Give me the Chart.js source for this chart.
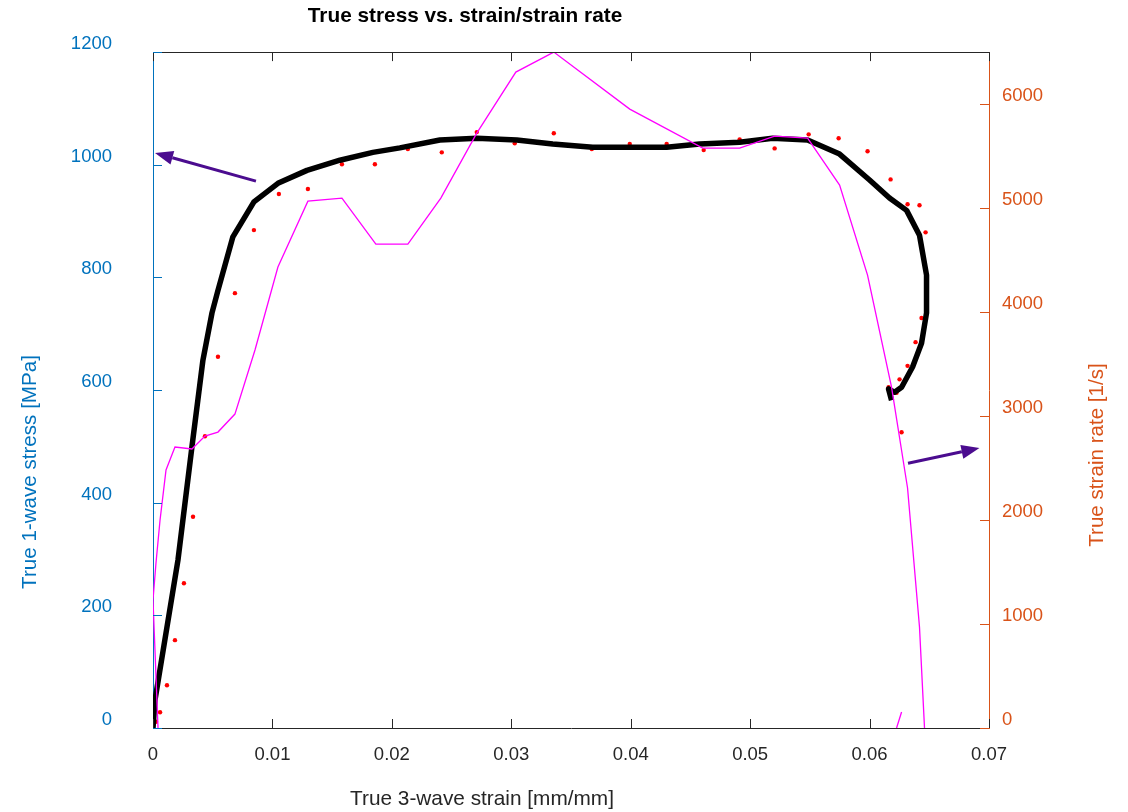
<!DOCTYPE html>
<html>
<head>
<meta charset="utf-8">
<script src="https://cdn.jsdelivr.net/npm/chart.js@4.4.0/dist/chart.umd.min.js"></script>
<style>
  html, body { margin: 0; padding: 0; background: #fff; }
  canvas { display: block; }
</style>
</head>
<body>
<canvas id="stressChart" width="1128" height="812"></canvas>
<script>
// stress-strain curve (left axis, MPa)
const strainStress = [0, 0.00017, 0.00209, 0.00326, 0.00418, 0.00494, 0.00544, 0.00669, 0.00845, 0.01046, 0.01289, 0.01565, 0.01841, 0.02067, 0.02402, 0.02711, 0.03046, 0.03347, 0.03682, 0.04301, 0.04577, 0.04912, 0.05188, 0.05481, 0.05749, 0.06, 0.06167, 0.0631, 0.06418, 0.06477, 0.06477, 0.06435, 0.0636, 0.06268, 0.06209, 0.06159, 0.06184];
const stress = [0, 50, 298, 499, 653, 737, 777, 872, 934, 967, 990, 1008, 1022, 1030, 1044, 1047, 1044, 1037, 1031, 1031, 1037, 1040, 1047, 1044, 1019, 973, 941, 919, 875, 804, 737, 683, 641, 605, 596, 602, 582];

// red dots (left axis)
const strainDots = [0.00025, 0.00059, 0.00117, 0.00184, 0.00259, 0.00335, 0.00435, 0.00544, 0.00686, 0.00845, 0.01054, 0.01297, 0.01582, 0.01858, 0.02134, 0.02418, 0.02711, 0.03029, 0.03356, 0.03674, 0.03992, 0.04301, 0.04611, 0.04912, 0.05205, 0.0549, 0.05741, 0.05983, 0.06176, 0.06318, 0.06418, 0.06469, 0.06435, 0.06385, 0.06318, 0.06251, 0.06159, 0.06226, 0.06268];
const dotStress = [11, 28, 76, 156, 257, 375, 518, 659, 772, 884, 948, 957, 1001, 1001, 1028, 1022, 1058, 1038, 1056, 1028, 1037, 1037, 1026, 1045, 1029, 1054, 1047, 1024, 974, 930, 928, 880, 728, 685, 643, 619, 605, 595, 525];

// strain rate (right axis, 1/s); null = break in the line
const strainRateX = [0.00042, 0, 0.00025, 0.00059, 0.00109, 0.00184, 0.00326, 0.00435, 0.00544, 0.00686, 0.00854, 0.01046, 0.01297, 0.01582, 0.01866, 0.02134, 0.0241, 0.02711, 0.03038, 0.03356, 0.03992, 0.04603, 0.04912, 0.05205, 0.05481, 0.05749, 0.05983, 0.06184, 0.06318, 0.06418, 0.0646, null, 0.06226, 0.06268];
const strainRate = [0, 1231, 1587, 2000, 2481, 2702, 2683, 2808, 2846, 3019, 3635, 4433, 5067, 5096, 4654, 4654, 5096, 5721, 6308, 6500, 5952, 5577, 5577, 5692, 5673, 5221, 4356, 3279, 2308, 971, 0, null, 0, 154];

// ticks
const xTicks = [0, 0.01, 0.02, 0.03, 0.04, 0.05, 0.06, 0.07];
const stressTicks = [0, 200, 400, 600, 800, 1000, 1200];
const rateTicks = [0, 1000, 2000, 3000, 4000, 5000, 6000];

// annotation arrows [x1, y1, x2, y2] in data units (left axis for y)
const arrowStress = [0.00862, 971, 0.00017, 1021];
const arrowRate = [0.06322, 470, 0.0692, 497];

const FONT = '"Liberation Sans", Arial, Helvetica, sans-serif';
const BLUE = '#0072BD';
const ORANGE = '#D95319';
const DARK = '#262626';

function pts(xs, ys) {
  return xs.map((x, i) => ({ x: x, y: ys[i] }));
}

const overlay = {
  id: 'overlay',
  afterDraw(chart) {
    const ctx = chart.ctx;
    const a = chart.chartArea;
    const sx = chart.scales.x, sy = chart.scales.y, sr = chart.scales.y2;
    ctx.save();

    function seg(x1, y1, x2, y2) {
      ctx.beginPath(); ctx.moveTo(x1, y1); ctx.lineTo(x2, y2); ctx.stroke();
    }

    // top frame
    ctx.lineWidth = 1;
    ctx.strokeStyle = DARK;
    seg(a.left, Math.round(a.top) + 0.5, a.right, Math.round(a.top) + 0.5);

    // inward tick marks
    xTicks.forEach(v => {
      const px = Math.round(sx.getPixelForValue(v)) + 0.5;
      seg(px, a.bottom, px, a.bottom - 9);
      seg(px, a.top, px, a.top + 9);
    });
    ctx.strokeStyle = BLUE;
    stressTicks.forEach(v => {
      const py = Math.round(sy.getPixelForValue(v)) + 0.5;
      seg(a.left, py, a.left + 9, py);
    });
    ctx.strokeStyle = ORANGE;
    rateTicks.forEach(v => {
      const py = Math.round(sr.getPixelForValue(v)) + 0.5;
      seg(a.right, py, a.right - 9, py);
    });

    // arrows
    function arrow(p) {
      const x1 = sx.getPixelForValue(p[0]), y1 = sy.getPixelForValue(p[1]);
      const x2 = sx.getPixelForValue(p[2]), y2 = sy.getPixelForValue(p[3]);
      const ang = Math.atan2(y2 - y1, x2 - x1);
      const hl = 18, hw = 7;
      const bx = x2 - hl * Math.cos(ang), by = y2 - hl * Math.sin(ang);
      ctx.strokeStyle = '#4B0C8F';
      ctx.fillStyle = '#4B0C8F';
      ctx.lineWidth = 3;
      seg(x1, y1, bx, by);
      ctx.beginPath();
      ctx.moveTo(x2, y2);
      ctx.lineTo(bx + hw * Math.sin(ang), by - hw * Math.cos(ang));
      ctx.lineTo(bx - hw * Math.sin(ang), by + hw * Math.cos(ang));
      ctx.closePath();
      ctx.fill();
    }
    arrow(arrowStress);
    arrow(arrowRate);

    // texts
    ctx.textAlign = 'center';
    ctx.textBaseline = 'middle';
    ctx.fillStyle = '#000';
    ctx.font = 'bold 20.8px ' + FONT;
    ctx.fillText('True stress vs. strain/strain rate', 465, 16);

    ctx.font = '20.8px ' + FONT;
    ctx.fillStyle = DARK;
    ctx.fillText('True 3-wave strain [mm/mm]', 482, 799);

    ctx.font = '20.6px ' + FONT;
    ctx.save();
    ctx.translate(30, 472);
    ctx.rotate(-Math.PI / 2);
    ctx.fillStyle = BLUE;
    ctx.fillText('True 1-wave stress [MPa]', 0, 0);
    ctx.restore();

    ctx.save();
    ctx.translate(1097, 455);
    ctx.rotate(-Math.PI / 2);
    ctx.fillStyle = ORANGE;
    ctx.fillText('True strain rate [1/s]', 0, 0);
    ctx.restore();

    ctx.restore();
  }
};

const ctx = document.getElementById('stressChart').getContext('2d');
const stressChart = new Chart(ctx, {
  type: 'line',
  data: {
    datasets: [{
      label: 'Strain rate',
      data: pts(strainRateX, strainRate),
      yAxisID: 'y2',
      borderColor: '#FF00FF',
      borderWidth: 1.3,
      pointRadius: 0,
      tension: 0,
      spanGaps: false
    }, {
      label: 'Stress',
      data: pts(strainStress, stress),
      yAxisID: 'y',
      borderColor: '#000000',
      borderWidth: 5.5,
      borderJoinStyle: 'round',
      pointRadius: 0,
      tension: 0
    }, {
      label: 'Stress points',
      data: pts(strainDots, dotStress),
      yAxisID: 'y',
      showLine: false,
      pointRadius: 2.2,
      pointBorderWidth: 0,
      pointBackgroundColor: '#FF0000',
      borderColor: '#FF0000'
    }]
  },
  options: {
    responsive: false,
    animation: false,
    events: [],
    layout: { padding: { top: 52, left: 0, right: 0, bottom: 0 } },
    plugins: {
      legend: { display: false },
      title: { display: false },
      tooltip: { enabled: false }
    },
    scales: {
      x: {
        type: 'linear',
        position: 'bottom',
        min: 0,
        max: 0.07,
        afterFit: s => { s.height = 84; },
        afterBuildTicks: s => { s.ticks = xTicks.map(v => ({ value: v })); },
        ticks: {
          padding: 16,
          color: DARK,
          font: { family: FONT, size: 18.5 },
          maxRotation: 0,
          callback: v => String(Number(v.toFixed(2)))
        },
        grid: { drawOnChartArea: false, drawTicks: false },
        border: { color: DARK, width: 1 }
      },
      y: {
        type: 'linear',
        position: 'left',
        min: 0,
        max: 1200,
        afterFit: s => { s.width = 153; },
        afterBuildTicks: s => { s.ticks = stressTicks.map(v => ({ value: v })); },
        ticks: {
          padding: 41,
          labelOffset: -8,
          color: BLUE,
          font: { family: FONT, size: 18.5 },
          callback: v => String(v)
        },
        grid: { drawOnChartArea: false, drawTicks: false },
        border: { color: BLUE, width: 1 }
      },
      y2: {
        type: 'linear',
        position: 'right',
        min: 0,
        max: 6500,
        afterFit: s => { s.width = 139; },
        afterBuildTicks: s => { s.ticks = rateTicks.map(v => ({ value: v })); },
        ticks: {
          padding: 13,
          labelOffset: -8,
          color: ORANGE,
          font: { family: FONT, size: 18.5 },
          callback: v => String(v)
        },
        grid: { drawOnChartArea: false, drawTicks: false },
        border: { color: ORANGE, width: 1 }
      }
    }
  },
  plugins: [overlay]
});
</script>
</body>
</html>
